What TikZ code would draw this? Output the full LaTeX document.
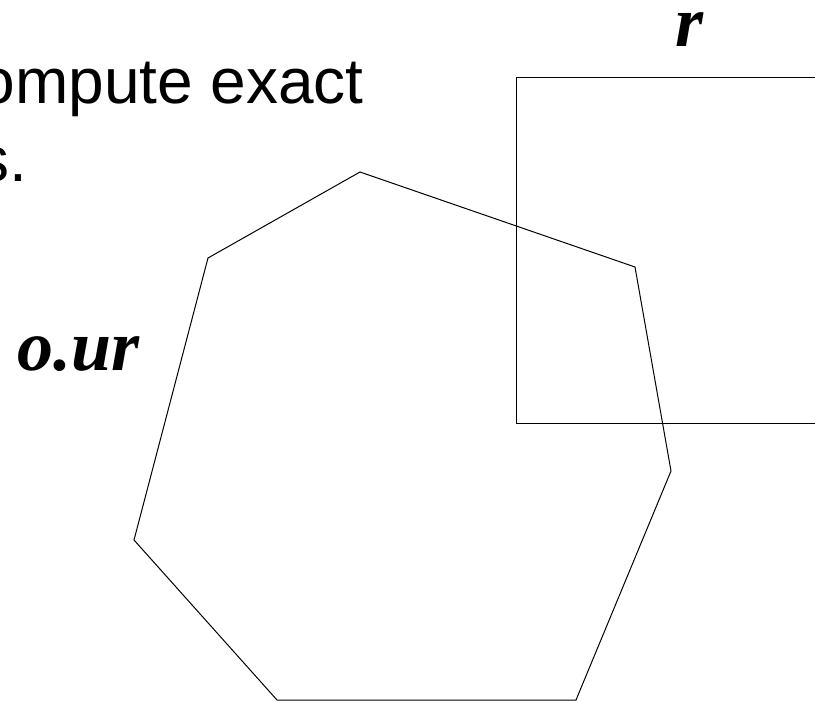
\documentclass[tikz,border=0pt]{standalone}
\usepackage{fontspec}
\setmainfont{Liberation Sans}
\newfontfamily\timesfont{Liberation Serif}
\tikzset{
	outline/.style = {line width = 1pt, black, line join = miter},
	slidetext/.style = {inner sep = 0pt, font = \fontsize{64}{76}\selectfont},
	varname/.style = {inner sep = 0pt, font = \timesfont\bfseries\itshape\fontsize{72}{80}\selectfont}
}
\begin{document}
\begin{tikzpicture}[x = 1pt, y = -1pt]
	\useasboundingbox (0,0) rectangle (815,702);
	\clip (0,0) rectangle (815,702);
	% slide text, cut at the left
	\node [slidetext, anchor = base east] (line1) at (364,103) {ompute exact};
	\node [slidetext, anchor = base east] (line2) at (27,181) {s.};
	% rectangle r
	\draw [outline] (830,77) -- (516,77) -- (516,423) -- (830,423);
	\node [varname, anchor = base] (rlabel) at (690,46) {r};
	% polygon o
	\coordinate (p1) at (360,172);
	\coordinate (p2) at (635,267);
	\coordinate (p3) at (671,471);
	\coordinate (p4) at (576,700);
	\coordinate (p5) at (277,700);
	\coordinate (p6) at (134,540);
	\coordinate (p7) at (208,258);
	\draw [outline] (p1) -- (p2) -- (p3) -- (p4) -- (p5) -- (p6) -- (p7) -- cycle;
	\node [varname, anchor = base west] (olabel) at (17,370) {o.ur};
\end{tikzpicture}
\end{document}
